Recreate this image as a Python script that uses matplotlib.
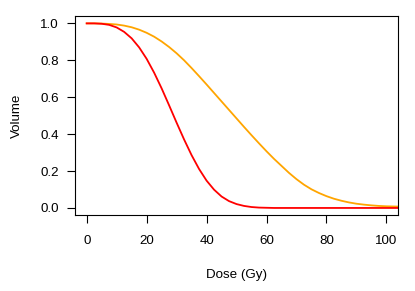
import matplotlib
matplotlib.use("Agg")
import matplotlib.pyplot as plt

dose = [0, 2.5, 5, 7.5, 10, 12.5, 15, 17.5, 20, 22.5, 25, 27.5, 30, 32.5, 35,
        37.5, 40, 42.5, 45, 47.5, 50, 52.5, 55, 57.5, 60, 62.5, 65, 67.5, 70,
        72.5, 75, 77.5, 80, 82.5, 85, 87.5, 90, 92.5, 95, 97.5, 100, 102.5, 105]

volume_red = [1.000, 1.000, 0.998, 0.992, 0.978, 0.954, 0.919, 0.870, 0.808,
              0.733, 0.648, 0.556, 0.462, 0.371, 0.286, 0.211, 0.148, 0.099,
              0.062, 0.037, 0.021, 0.011, 0.005, 0.002, 0.001, 0.000, 0.000,
              0.000, 0.000, 0.000, 0.000, 0.000, 0.000, 0.000, 0.000, 0.000,
              0.000, 0.000, 0.000, 0.000, 0.000, 0.000, 0.000]

volume_orange = [1.000, 1.000, 0.999, 0.997, 0.994, 0.988, 0.979, 0.966, 0.949,
                 0.928, 0.902, 0.872, 0.838, 0.800, 0.758, 0.714, 0.669, 0.623,
                 0.577, 0.531, 0.485, 0.439, 0.394, 0.350, 0.307, 0.266, 0.228,
                 0.190, 0.156, 0.126, 0.101, 0.081, 0.064, 0.050, 0.039, 0.030,
                 0.023, 0.018, 0.014, 0.011, 0.009, 0.008, 0.007]

x_ticks = [0, 20, 40, 60, 80, 100]
y_ticks = [0.0, 0.2, 0.4, 0.6, 0.8, 1.0]
y_tick_labels = ["0.0", "0.2", "0.4", "0.6", "0.8", "1.0"]

plt.rcParams['font.family'] = ['Liberation Sans', 'DejaVu Sans']

fig = plt.figure(figsize=(4.15, 2.91), dpi=100)
ax = fig.add_axes([0.180, 0.260, 0.780, 0.685])

ax.plot(dose, volume_orange, color="#FFA500", lw=1.3, clip_on=True,
        solid_joinstyle='round')
ax.plot(dose, volume_red, color="#FF0000", lw=1.3, clip_on=True,
        solid_joinstyle='round')

ax.set_xlim(-4, 104)
ax.set_ylim(-0.04, 1.04)
ax.set_xticks(x_ticks)
ax.set_yticks(y_ticks)
ax.set_yticklabels(y_tick_labels)
ax.tick_params(direction='out', length=5.8, width=0.8, labelsize=9.6, color='black')
ax.tick_params(axis='x', pad=8.5)
ax.tick_params(axis='y', pad=5.5)
for s in ax.spines.values():
    s.set_linewidth(0.8)
    s.set_color('black')

ax.set_xlabel("Dose (Gy)", fontsize=9.6)
ax.xaxis.set_label_coords(0.5, -0.30)
ax.xaxis.label.set_va('center')
ax.set_ylabel("Volume", fontsize=9.6)
ax.yaxis.set_label_coords(-0.178, 0.5)
ax.yaxis.label.set_va('center')

fig.savefig("out.png", dpi=100)
